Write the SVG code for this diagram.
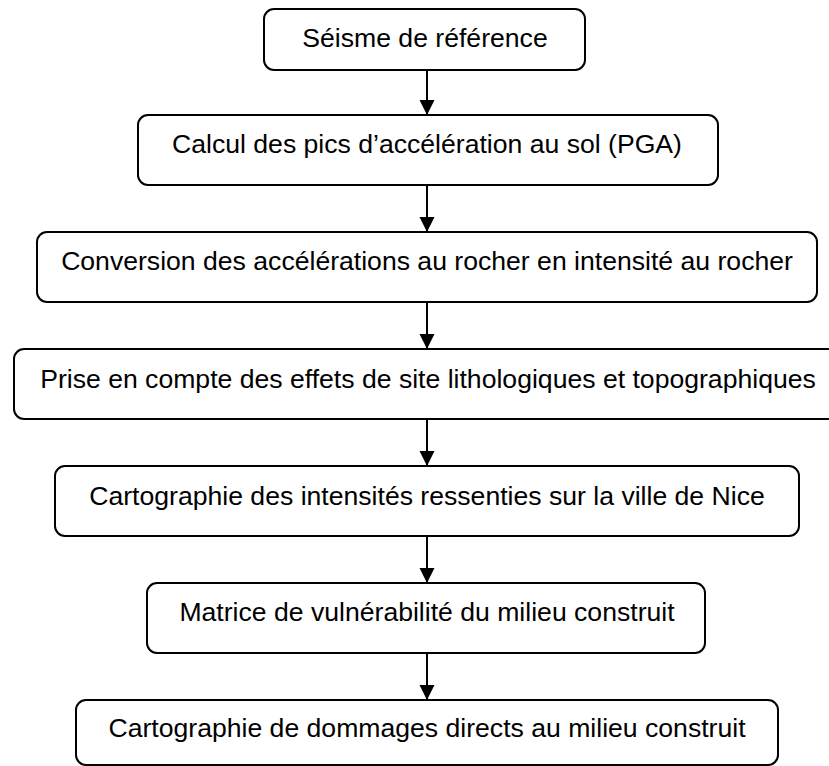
<svg xmlns="http://www.w3.org/2000/svg" width="829" height="766" viewBox="0 0 829 766">
<defs>
<style>
.box{fill:#fff;stroke:#000;stroke-width:2}
.t{font-family:"Liberation Sans",Arial,sans-serif;font-size:26.6px;fill:#000;text-anchor:middle}
.c{stroke:#000;stroke-width:2;fill:none}
</style>
<marker id="ah" markerWidth="15" markerHeight="16" refX="15" refY="7.5" orient="auto" markerUnits="userSpaceOnUse" viewBox="0 0 15 15">
<path d="M0,0 L15,7.5 L0,15 Z" fill="#000"/>
</marker>
</defs>
<rect width="829" height="766" fill="#fff"/>
<g id="connectors">
<line class="c" x1="427" y1="70" x2="427" y2="115" marker-end="url(#ah)"/>
<line class="c" x1="427" y1="185" x2="427" y2="232" marker-end="url(#ah)"/>
<line class="c" x1="427" y1="302" x2="427" y2="349" marker-end="url(#ah)"/>
<line class="c" x1="427" y1="419" x2="427" y2="466" marker-end="url(#ah)"/>
<line class="c" x1="427" y1="536" x2="427" y2="583" marker-end="url(#ah)"/>
<line class="c" x1="427" y1="653" x2="427" y2="700" marker-end="url(#ah)"/>
</g>
<g id="n1"><rect class="box" x="264" y="9" width="321" height="61" rx="10"/><text class="t" x="425" y="47">Séisme de référence</text></g>
<g id="n2"><rect class="box" x="138" y="115" width="580" height="70" rx="10"/><text class="t" x="427" y="153">Calcul des pics d’accélération au sol (PGA)</text></g>
<g id="n3"><rect class="box" x="37" y="232" width="780" height="70" rx="10"/><text class="t" x="427" y="270">Conversion des accélérations au rocher en intensité au rocher</text></g>
<g id="n4"><rect class="box" x="14" y="349" width="840" height="70" rx="10"/><text class="t" x="428" y="388">Prise en compte des effets de site lithologiques et topographiques</text></g>
<g id="n5"><rect class="box" x="55" y="466" width="744" height="70" rx="10"/><text class="t" x="427" y="505">Cartographie des intensités ressenties sur la ville de Nice</text></g>
<g id="n6"><rect class="box" x="147" y="583" width="558" height="70" rx="10"/><text class="t" x="427" y="621">Matrice de vulnérabilité du milieu construit</text></g>
<g id="n7"><rect class="box" x="76" y="700" width="702" height="65" rx="10"/><text class="t" x="427" y="737">Cartographie de dommages directs au milieu construit</text></g>
</svg>
